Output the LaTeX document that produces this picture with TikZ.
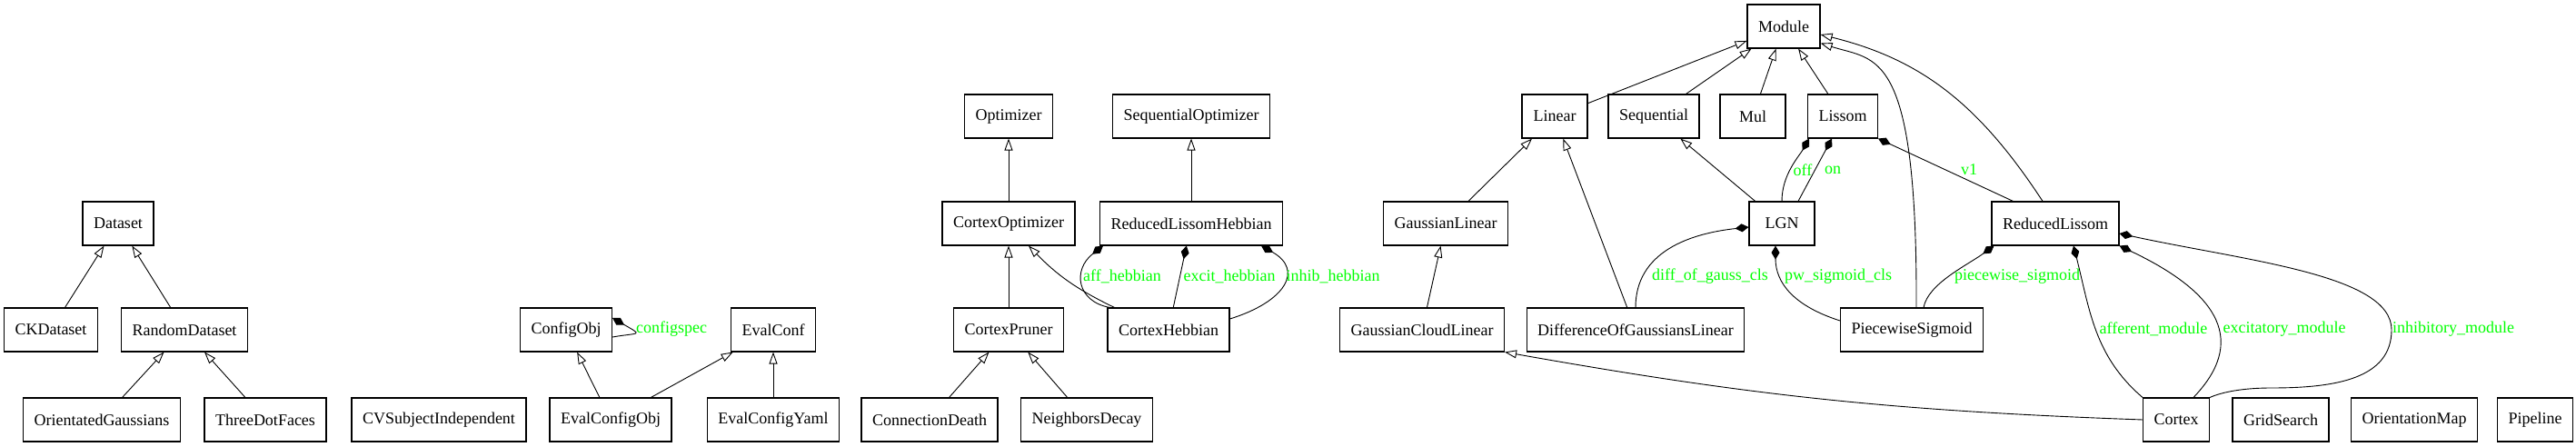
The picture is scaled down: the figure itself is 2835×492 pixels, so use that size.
\documentclass[tikz,border=0pt]{standalone}
\usepackage{fontspec}
\setmainfont{Liberation Serif}
\usetikzlibrary{arrows.meta}
\definecolor{lblgreen}{RGB}{0,255,0}
\begin{document}
\begin{tikzpicture}[x=1pt,y=1pt,
  cls/.style={draw,line width=1.1pt,minimum width=72pt,minimum height=48pt,inner xsep=12pt,font=\fontsize{18}{20}\selectfont},
  lb/.style={text=lblgreen,inner sep=1pt,font=\fontsize{18}{20}\selectfont},
  isa/.style={line width=0.9pt,-{Triangle[open,length=13pt,width=9pt]}},
  comp/.style={line width=0.9pt,{Diamond[length=15pt,width=9pt]}-}]
\useasboundingbox (0,0) rectangle (2835,492);
\node[cls] (mod) at (1963,463) {Module};
\node[cls] (opt) at (1110,364) {Optimizer};
\node[cls] (sopt) at (1311,364) {SequentialOptimizer};
\node[cls] (lin) at (1711,364) {Linear};
\node[cls] (seq) at (1820,364) {Sequential};
\node[cls] (mul) at (1929,364) {Mul};
\node[cls] (lis) at (2028,364) {Lissom};
\node[cls] (ds) at (130,246) {Dataset};
\node[cls] (cop) at (1110,246) {CortexOptimizer};
\node[cls] (rlh) at (1311,246) {ReducedLissomHebbian};
\node[cls] (gl) at (1591,246) {GaussianLinear};
\node[cls] (lgn) at (1961,246) {LGN};
\node[cls] (rl) at (2262,246) {ReducedLissom};
\node[cls] (ckd) at (56,129) {CKDataset};
\node[cls] (rds) at (203,129) {RandomDataset};
\node[cls] (cfg) at (623,129) {ConfigObj};
\node[cls] (evc) at (851,129) {EvalConf};
\node[cls] (cpr) at (1110,129) {CortexPruner};
\node[cls] (chb) at (1286,129) {CortexHebbian};
\node[cls] (gcl) at (1565,129) {GaussianCloudLinear};
\node[cls] (dog) at (1800,129) {DifferenceOfGaussiansLinear};
\node[cls] (pws) at (2104,129) {PiecewiseSigmoid};
\node[cls] (og) at (112,30) {OrientatedGaussians};
\node[cls] (tdf) at (292,30) {ThreeDotFaces};
\node[cls] (cvs) at (483,30) {CVSubjectIndependent};
\node[cls] (eco) at (672,30) {EvalConfigObj};
\node[cls] (ecy) at (851,30) {EvalConfigYaml};
\node[cls] (cnd) at (1023,30) {ConnectionDeath};
\node[cls] (nbd) at (1196,30) {NeighborsDecay};
\node[cls] (cx) at (2395,30) {Cortex};
\node[cls] (gs) at (2510,30) {GridSearch};
\node[cls] (om) at (2657,30) {OrientationMap};
\node[cls] (pl) at (2790,30) {Pipeline};
\draw[isa] (ckd)--(ds);
\draw[isa] (rds)--(ds);
\draw[isa] (og)--(rds);
\draw[isa] (tdf)--(rds);
\draw[isa] (eco)--(cfg);
\draw[isa] (eco)--(evc);
\draw[isa] (ecy)--(evc);
\draw[isa] (cop)--(opt);
\draw[isa] (cpr)--(cop);
\draw[isa] (cnd)--(cpr);
\draw[isa] (nbd)--(cpr);
\draw[isa] ([xshift=8pt]chb.north west) to[bend left=10] ([xshift=22pt]cop.south);
\draw[isa] (rlh)--(sopt);
\draw[isa] (gl)--(lin);
\draw[isa] (gcl)--(gl);
\draw[isa] (dog)--(lin);
\draw[isa] (lin)--(mod);
\draw[isa] (seq)--(mod);
\draw[isa] (mul)--(mod);
\draw[isa] (lis)--(mod);
\draw[isa] (lgn)--(seq);
\draw[isa] ([xshift=5pt]pws.north) .. controls (2110,440) and (2065,425) .. ([yshift=6pt]mod.south east);
\draw[isa] ([xshift=-14pt]rl.north) .. controls (2177,379) and (2113,427) .. ([yshift=-9pt]mod.east);
\draw[isa] (cx.west) to[bend left=4] (gcl.south east);
\draw[comp] ([yshift=13pt]cfg.east) .. controls +(-30:40) and +(10:30) .. ([yshift=-8pt]cfg.east);
\draw[comp] ([xshift=4pt]rlh.south west) .. controls (1180,195) and (1185,160) .. ([xshift=3pt]chb.north west);
\draw[comp] (rlh)--(chb);
\draw[comp] ([xshift=-24pt]rlh.south east) .. controls (1435,195) and (1415,160) .. ([yshift=12pt]chb.east);
\draw[comp] ([xshift=2pt]lis.south west) .. controls (1980,320) and (1961,300) .. (lgn.north);
\draw[comp] ([xshift=-12pt]lis.south) -- ([xshift=18pt]lgn.north);
\draw[comp] (lis.south east) -- ([xshift=24pt]rl.north west);
\draw[comp] ([yshift=-4pt]lgn.west) .. controls (1860,235) and (1800,215) .. (dog.north);
\draw[comp] ([xshift=-7pt]lgn.south) .. controls (1954,180) and (1975,155) .. ([yshift=10pt]pws.west);
\draw[comp] ([xshift=3pt]rl.south west) .. controls (2165,200) and (2122,180) .. ([xshift=13pt]pws.north);
\draw[comp] ([xshift=20pt]rl.south) .. controls (2300,150) and (2305,100) .. (cx.north west);
\draw[comp] (rl.south east) .. controls (2445,168) and (2472,115) .. ([xshift=19pt]cx.north);
\draw[comp] ([yshift=-11pt]rl.east) .. controls (2470,205) and (2632,190) .. (2632,129) .. controls (2632,75) and (2570,65) .. (2500,65) .. controls (2460,65) and (2440,58) .. (cx.north east);
\node[lb,anchor=west] (lcfg) at (699,130) {configspec};
\node[lb] (laff) at (1235,188) {aff\_hebbian};
\node[lb] (lexc) at (1353,188) {excit\_hebbian};
\node[lb] (linh) at (1467,188) {inhib\_hebbian};
\node[lb] (loff) at (1984,305) {off};
\node[lb] (lon) at (2017,305) {on};
\node[lb] (lv1) at (2167,305) {v1};
\node[lb] (ldog) at (1882,188) {diff\_of\_gauss\_cls};
\node[lb] (lpwc) at (2023,188) {pw\_sigmoid\_cls};
\node[lb] (lpws) at (2220,188) {piecewise\_sigmoid};
\node[lb] (laffm) at (2370,130) {afferent\_module};
\node[lb] (lexcm) at (2514,130) {excitatory\_module};
\node[lb] (linhm) at (2700,130) {inhibitory\_module};
\end{tikzpicture}
\end{document}
